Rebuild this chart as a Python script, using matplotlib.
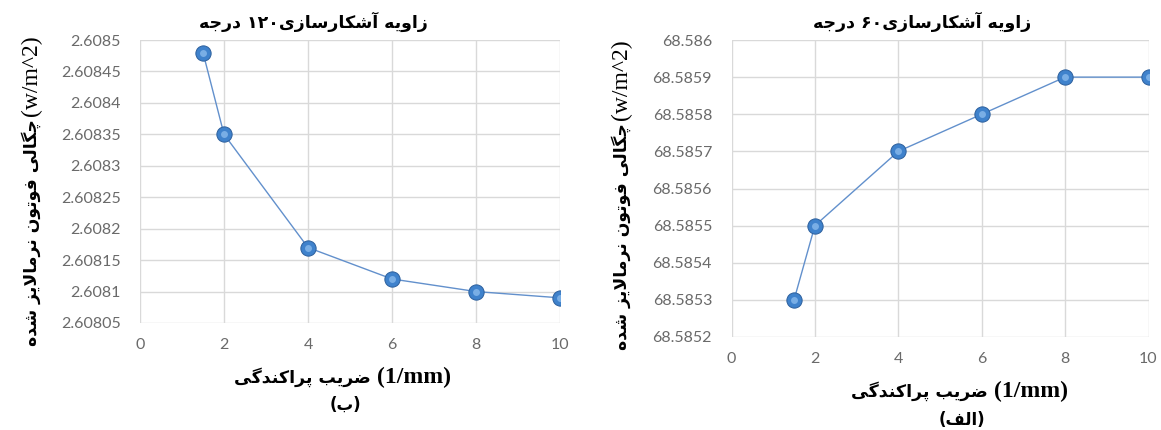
import re
import matplotlib
matplotlib.use('Agg')
import matplotlib.pyplot as plt
from matplotlib.ticker import FuncFormatter

# data
scatter_coef = [1.5, 2, 4, 6, 8, 10]
density_120 = [2.608480, 2.608350, 2.608170, 2.608120, 2.608100, 2.608090]
density_60 = [68.5853, 68.5855, 68.5857, 68.5858, 68.5859, 68.5859]

# minimal persian shaping (matplotlib 3.10 has no complex text layout)
FORMS = {
    'ا': ('\uFE8D', '\uFE8E', None, None),
    'آ': ('\uFE81', '\uFE82', None, None),
    'ب': ('\uFE8F', '\uFE90', '\uFE91', '\uFE92'),
    'پ': ('\uFB56', '\uFB57', '\uFB58', '\uFB59'),
    'ت': ('\uFE95', '\uFE96', '\uFE97', '\uFE98'),
    'ج': ('\uFE9D', '\uFE9E', '\uFE9F', '\uFEA0'),
    'چ': ('\uFB7A', '\uFB7B', '\uFB7C', '\uFB7D'),
    'د': ('\uFEA9', '\uFEAA', None, None),
    'ر': ('\uFEAD', '\uFEAE', None, None),
    'ز': ('\uFEAF', '\uFEB0', None, None),
    'س': ('\uFEB1', '\uFEB2', '\uFEB3', '\uFEB4'),
    'ش': ('\uFEB5', '\uFEB6', '\uFEB7', '\uFEB8'),
    'ض': ('\uFEBD', '\uFEBE', '\uFEBF', '\uFEC0'),
    'ف': ('\uFED1', '\uFED2', '\uFED3', '\uFED4'),
    'ک': ('\uFB8E', '\uFB8F', '\uFB90', '\uFB91'),
    'گ': ('\uFB92', '\uFB93', '\uFB94', '\uFB95'),
    'ل': ('\uFEDD', '\uFEDE', '\uFEDF', '\uFEE0'),
    'م': ('\uFEE1', '\uFEE2', '\uFEE3', '\uFEE4'),
    'ن': ('\uFEE5', '\uFEE6', '\uFEE7', '\uFEE8'),
    'و': ('\uFEED', '\uFEEE', None, None),
    'ه': ('\uFEE9', '\uFEEA', '\uFEEB', '\uFEEC'),
    'ی': ('\uFBFC', '\uFBFD', '\uFBFE', '\uFBFF'),
}


def shape(s):
    out = []
    i = 0
    prev = None
    while i < len(s):
        ch = s[i]
        nxt = s[i + 1] if i + 1 < len(s) else None
        joins_prev = prev in FORMS and FORMS[prev][2] is not None
        if ch == 'ل' and nxt == 'ا':
            out.append('\uFEFC' if joins_prev else '\uFEFB')
            prev = 'ا'
            i += 2
            continue
        if ch in FORMS:
            f = FORMS[ch]
            can_next = f[2] is not None and nxt in FORMS
            if joins_prev and can_next:
                out.append(f[3])
            elif joins_prev:
                out.append(f[1])
            elif can_next:
                out.append(f[2])
            else:
                out.append(f[0])
        else:
            out.append(ch)
        prev = ch
        i += 1
    return ''.join(out)


def rtl(s):
    v = shape(s)[::-1]
    return re.sub(r'[۰-۹0-9]+', lambda m: m.group()[::-1], v)


title_120 = rtl('زاویه آشکارسازی۱۲۰ درجه')
title_60 = rtl('زاویه آشکارسازی۶۰ درجه')
ylab_fa = rtl('چگالی فوتون نرمالایز شده')
ylab_unit = '(w/m^2)'
xlab_fa = rtl('ضریب پراکندگی')
xlab_unit = '(1/mm)'
sub_b = '(' + rtl('ب') + ')'
sub_a = '(' + rtl('الف') + ')'

W, H = 1161, 430
fig = plt.figure(figsize=(W / 100, H / 100), dpi=100)

tick_col = '#6A6A6A'
grid_col = '#D9D9D9'
line_col = '#6290CC'


def px(x, y):
    return x / W, 1 - y / H


def style(ax, ylo, yhi, ystep, fmt_dec):
    ax.set_xlim(0, 10)
    ax.set_ylim(ylo, yhi)
    ax.set_xticks(range(0, 11, 2))
    n = int(round((yhi - ylo) / ystep))
    ax.set_yticks([ylo + k * ystep for k in range(n + 1)])
    ax.yaxis.set_major_formatter(FuncFormatter(
        lambda v, p: ('%.*f' % (fmt_dec, v)).rstrip('0').rstrip('.')))
    for s in ax.spines.values():
        s.set_visible(False)
    ax.grid(True, color=grid_col, lw=1.0)
    ax.set_axisbelow(True)
    ax.tick_params(length=0, colors=tick_col, labelsize=11.5)
    ax.tick_params(axis='y', pad=14)
    ax.tick_params(axis='x', pad=11)
    for lab in ax.get_xticklabels() + ax.get_yticklabels():
        lab.set_family('Lato')


def draw(ax, x, y):
    ax.plot(x, y, color=line_col, lw=1.0, zorder=3)
    ax.plot(x, y, ls='none', marker='o', ms=11, mfc='#3F82CC', mec='#2C5F9C',
            mew=0.7, zorder=4)
    ax.plot(x, y, ls='none', marker='o', ms=5, mfc='#8DBDEE', mec='none',
            alpha=0.75, zorder=5)


ax1 = fig.add_axes([140 / W, 1 - 323 / H, (560 - 140) / W, (323 - 40) / H])
style(ax1, 2.60805, 2.6085, 0.00005, 5)
draw(ax1, scatter_coef, density_120)

ax2 = fig.add_axes([731.5 / W, 1 - 337 / H, (1148.5 - 731.5) / W, (337 - 40) / H])
style(ax2, 68.5852, 68.586, 0.0001, 4)
draw(ax2, scatter_coef, density_60)

fa = ['DejaVu Sans']
serif = ['Liberation Serif']

# titles
fig.text(*px(313, 22), title_120, family=fa, weight='bold', fontsize=12.5,
         ha='center', va='center')
fig.text(*px(922, 22), title_60, family=fa, weight='bold', fontsize=12.5,
         ha='center', va='center')

# y labels: unit on top, persian below
for xc, ysplit in [(31, 116), (621, 120)]:
    fig.text(*px(xc, ysplit), ylab_unit, family=serif, fontsize=17,
             rotation=90, ha='center', va='bottom')
    fig.text(*px(xc, ysplit + 3), ylab_fa, family=fa, weight='bold', fontsize=12.4,
             rotation=90, ha='center', va='top')

# x labels: persian left, unit right
for xsplit, yc in [(377, 377), (994, 391)]:
    fig.text(*px(xsplit - 6, yc), xlab_fa, family=fa, weight='bold', fontsize=12.5,
             ha='right', va='center')
    fig.text(*px(xsplit, yc), xlab_unit, family=serif, weight='bold', fontsize=17,
             ha='left', va='center')

fig.text(*px(345, 405), sub_b, family=fa, weight='bold', fontsize=12,
         ha='center', va='center')
fig.text(*px(962, 420), sub_a, family=fa, weight='bold', fontsize=12,
         ha='center', va='center')

fig.savefig('out.png', dpi=100, facecolor='white')
